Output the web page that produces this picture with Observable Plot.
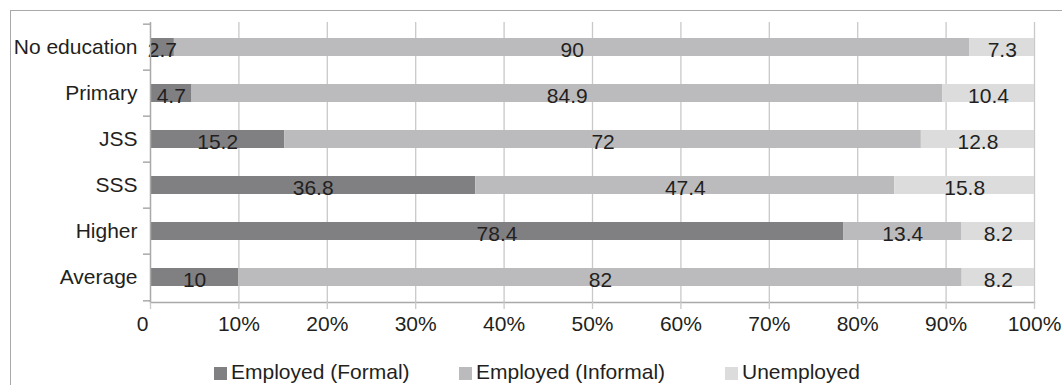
<!DOCTYPE html>
<html>
<head>
<meta charset="utf-8">
<script src="https://cdn.jsdelivr.net/npm/d3@7"></script>
<script src="https://cdn.jsdelivr.net/npm/@observablehq/plot@0.6"></script>
<style>
  html, body { margin: 0; padding: 0; background: #fff; overflow: hidden; }
  #wrap { position: relative; width: 1062px; height: 385px; overflow: hidden;
          font-family: "Liberation Sans", Arial, Helvetica, sans-serif; color: #231f20; }
  #border { position: absolute; left: 10px; top: 10px; width: 1200px; height: 500px;
            border-left: 1.5px solid #a9a9a9; border-top: 1.5px solid #a9a9a9; pointer-events: none; }
  #chart { position: absolute; left: 0; top: 0; }
  #legend { position: absolute; left: 0; top: 340px; width: 1062px; height: 45px; }
  .item { position: absolute; top: 20px; height: 24px; display: flex; align-items: center; font-size: 21px; line-height: 24px; white-space: nowrap; }
  .sw { width: 13px; height: 13px; margin-right: 4px; margin-top: 2px; }
</style>
</head>
<body>
<div id="wrap">
  <div id="chart"></div>
  <div id="legend"></div>
  <div id="border"></div>
</div>
<script>
// Employment status shares by level of education (percent)
const categories = ["No education", "Primary", "JSS", "SSS", "Higher", "Average"];
const statuses = ["Employed (Formal)", "Employed (Informal)", "Unemployed"];
const formal = [2.7, 4.7, 15.2, 36.8, 78.4, 10];
const informal = [90, 84.9, 72, 47.4, 13.4, 82];
const unemployed = [7.3, 10.4, 12.8, 15.8, 8.2, 8.2];
const xTicks = [0, 0.1, 0.2, 0.3, 0.4, 0.5, 0.6, 0.7, 0.8, 0.9, 1];

const colors = ["#808083", "#bbbbbd", "#dcdcdd"];
const seriesValues = [formal, informal, unemployed];

const rows = [];
categories.forEach((category, i) => {
  statuses.forEach((status, s) => {
    rows.push({category, status, value: seriesValues[s][i]});
  });
});

const width = 1062, height = 340;
const marginTop = 22, marginBottom = 38, marginLeft = 150, marginRight = 28;
const step = (height - marginTop - marginBottom) / categories.length;
const font = '"Liberation Sans", Arial, Helvetica, sans-serif';
const fs = 21;

const stackOpts = {x: "value", y: "category", z: "status", offset: "normalize", order: statuses};

const chart = Plot.plot({
  width, height, marginTop, marginBottom, marginLeft, marginRight,
  style: {fontFamily: font, fontSize: fs + "px", color: "#231f20", background: "transparent"},
  x: {domain: [0, 1], axis: null, label: null},
  y: {domain: categories, paddingInner: 0.6, paddingOuter: 0.3, axis: null, label: null},
  color: {domain: statuses, range: colors},
  marks: [
    // vertical gridlines
    Plot.ruleX(xTicks.slice(1), {stroke: "#c9c9c9", strokeWidth: 1.3}),
    // stacked bars
    Plot.barX(rows, Plot.stackX({...stackOpts, fill: "status"})),
    // value labels, centred in each segment
    Plot.text(rows, Plot.stackX({...stackOpts, text: d => String(d.value), fill: "#231f20", dy: 3, fontSize: fs})),
    // category axis line and boundary ticks
    Plot.ruleX([0], {stroke: "#a9a9a9", strokeWidth: 1.5}),
    Plot.axisY({tickSize: 7, dy: -step / 2, text: null, label: null, stroke: "#a9a9a9", strokeWidth: 1.5}),
    Plot.axisY({ticks: [categories[categories.length - 1]], tickSize: 7, dy: step / 2, text: null, label: null, stroke: "#a9a9a9", strokeWidth: 1.5}),
    // category labels
    Plot.axisY({tickSize: 0, tickPadding: 13, fontSize: fs, fill: "#231f20", label: null}),
    // percentage axis
    Plot.frame({anchor: "bottom", stroke: "#a9a9a9", strokeWidth: 1.5}),
    Plot.axisX({ticks: xTicks, tickSize: 7, tickPadding: 7, stroke: "#c9c9c9", strokeWidth: 1.3, label: null,
                tickFormat: d => d === 0 ? "" : Math.round(d * 100) + "%", fontSize: fs, fill: "#231f20"}),
    Plot.axisX({ticks: [0], tickSize: 7, tickPadding: 7, dx: -8, stroke: "none", label: null,
                tickFormat: () => "0", fontSize: fs, fill: "#231f20"})
  ]
});
document.getElementById("chart").appendChild(chart);

// legend
const legendX = [214, 459, 725];
const legend = document.getElementById("legend");
statuses.forEach((s, i) => {
  const item = document.createElement("div");
  item.className = "item";
  item.style.left = legendX[i] + "px";
  const sw = document.createElement("span");
  sw.className = "sw";
  sw.style.background = colors[i];
  const label = document.createElement("span");
  label.textContent = s;
  item.appendChild(sw);
  item.appendChild(label);
  legend.appendChild(item);
});
</script>
</body>
</html>
